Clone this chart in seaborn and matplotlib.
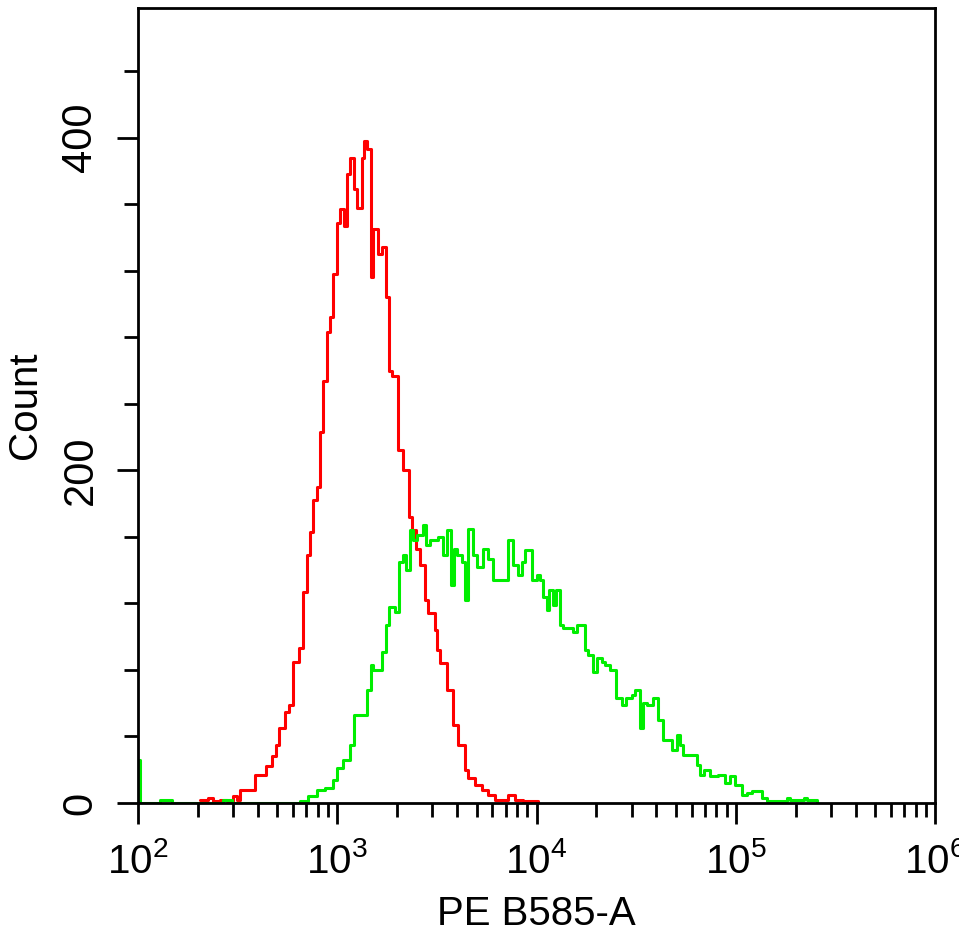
import numpy as np
import pandas as pd
import seaborn as sns
import matplotlib.pyplot as plt
from matplotlib.ticker import LogLocator, MultipleLocator, NullFormatter

# Histogram overlay: PE B585-A intensity (left edge of each step) vs event count
# red = control sample, green = stained sample

red_pe = [205, 225, 238, 258, 280, 300, 314, 325, 386, 419, 439, 470, 492, 510,
          547, 573, 600, 643, 673, 705, 730, 755, 791, 819, 848, 888, 919, 951,
          996, 1032, 1081, 1119, 1158, 1213, 1256, 1330, 1361, 1409, 1476, 1510,
          1600, 1675, 1754, 1816, 1880, 2018, 2138, 2291, 2371, 2483, 2600, 2754,
          2851, 3090, 3162, 3273, 3548, 3808, 4033, 4373, 4529, 4909, 5321, 5702,
          6180, 7178, 7798, 8551, 10160]
red_count = [2, 3, 1, 2, 1, 4, 2, 8, 17, 17, 22, 28, 35, 45,
             55, 59, 85, 93, 127, 149, 163, 182, 190, 223, 254, 283, 292, 318,
             349, 357, 347, 378, 388, 369, 358, 388, 398, 393, 316, 345,
             330, 334, 304, 260, 257, 212, 200, 172, 164, 153, 143, 122,
             114, 104, 92, 84, 68, 47, 35, 20, 15, 11, 8, 5,
             2, 5, 2, 1, 0]

green_pe = [100, 102, 129, 148, 267, 296, 650, 713, 791, 867, 951, 996, 1069,
            1158, 1213, 1345, 1409, 1476, 1510, 1675, 1754, 1816, 1948, 2042,
            2138, 2213, 2317, 2399, 2512, 2692, 2786, 2917, 3199, 3388, 3548,
            3718, 3855, 3989, 4225, 4373, 4529, 4797, 5023, 5383, 5702, 6040,
            6325, 7178, 7621, 8068, 8453, 8750, 9484, 10046, 10400, 10769,
            11272, 11535, 12078, 12502, 13092, 13552, 15236, 15951, 17490,
            18108, 19187, 20092, 21281, 22035, 23336, 25003, 26834, 28093,
            30128, 31189, 33036, 34198, 35809, 38371, 40644, 43052, 47753,
            50582, 52360, 54306, 63825, 66069, 69183, 74131, 81283, 88105,
            93325, 98855, 107400, 113763, 120504, 135208, 143219, 180302,
            186638, 219786, 227510, 255270]
green_count = [26, 0, 2, 0, 2, 0, 1, 4, 8, 9, 14, 21, 26,
               35, 53, 53, 68, 83, 80, 91, 107, 118, 115, 145,
               149, 140, 164, 158, 161, 167, 155, 158, 160, 149, 164,
               131, 153, 149, 145, 122, 165, 149, 142, 153, 147, 134,
               134, 158, 143, 137, 145, 152, 134, 137, 134, 124,
               116, 128, 119, 128, 107, 105, 103, 107, 92,
               89, 79, 87, 85, 83, 80, 63, 59, 63,
               65, 68, 45, 60, 59, 63, 50, 38, 32,
               41, 35, 29, 23, 17, 20, 16, 17, 12,
               16, 11, 5, 6, 7, 3, 1, 3,
               2, 3, 2, 0]

sns.set_style('ticks')
plt.rcParams['font.family'] = ['Liberation Sans', 'DejaVu Sans']
plt.rcParams['mathtext.default'] = 'regular'
plt.rcParams['text.color'] = 'black'
plt.rcParams['axes.labelcolor'] = 'black'
plt.rcParams['xtick.color'] = 'black'
plt.rcParams['ytick.color'] = 'black'

df = pd.concat([
    pd.DataFrame({'pe': red_pe, 'count': red_count, 'sample': 'control'}),
    pd.DataFrame({'pe': green_pe, 'count': green_count, 'sample': 'stained'}),
], ignore_index=True)

fig = plt.figure(figsize=(9.59, 9.35), dpi=100)
ax = fig.add_axes([138/959, 1 - 803/935, (935 - 138)/959, (803 - 8)/935])

sns.lineplot(data=df, x='pe', y='count', hue='sample',
             palette=['#ff0000', '#00ee00'], drawstyle='steps-post',
             estimator=None, sort=False, linewidth=2.2, legend=False, ax=ax)

ax.set_xscale('log')
ax.set_xlim(100, 1e6)
ax.set_ylim(0, 478)

ax.xaxis.set_major_locator(LogLocator(base=10, numticks=10))
ax.xaxis.set_minor_locator(LogLocator(base=10, subs=np.arange(2, 10), numticks=20))
ax.xaxis.set_minor_formatter(NullFormatter())

ax.set_yticks([0, 200, 400])
ax.set_yticklabels(['0', '200', '400'], rotation=90, va='center', fontsize=30)
ax.yaxis.set_minor_locator(MultipleLocator(40))

ax.tick_params(axis='both', which='major', direction='out', length=15, width=2,
               color='black')
ax.tick_params(axis='both', which='minor', direction='out', length=10, width=2,
               color='black')
ax.tick_params(axis='x', which='major', labelsize=29, pad=13)
ax.tick_params(axis='y', which='major', pad=12)

for s in ax.spines.values():
    s.set_linewidth(2)
    s.set_color('black')

ax.set_xlabel('PE B585-A', fontsize=29, labelpad=10)
ax.set_ylabel('Count', fontsize=29, labelpad=12)

fig.savefig('out.png', dpi=100)
